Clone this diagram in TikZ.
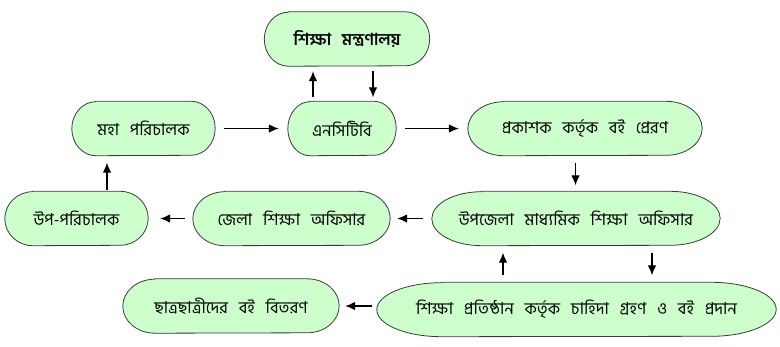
\documentclass[tikz,border=0pt]{standalone}
\usepackage{fontspec}
\usetikzlibrary{arrows.meta,backgrounds}
\newfontfamily\bangla[Script=Bengali]{Hind Siliguri}
\definecolor{boxGreen}{HTML}{CCFFCC}
\definecolor{edgeGray}{HTML}{3A3A3A}
\newcommand{\stagefont}{\bangla\fontsize{16.5}{20}\selectfont\spaceskip=0.65em\relax}
\tikzset{
  flow arrow/.style={-{Latex[length=10pt,width=8.5pt]},draw=black,line width=1.2pt},
  stage node/.style={inner sep=0pt,align=center,minimum height=54pt,
    font=\stagefont},
  stage outline/.style={draw=edgeGray,fill=boxGreen,line width=0.8pt}
}
% outline with elliptic ends, drawn behind a named node
\newcommand{\stagebox}[2]{%
  \draw[stage outline] ([xshift=#2]#1.north west) -- ([xshift=-#2]#1.north east)
    arc[start angle=90,end angle=-90,x radius=#2,y radius=27pt]
    -- ([xshift=#2]#1.south west)
    arc[start angle=270,end angle=90,x radius=#2,y radius=27pt] -- cycle;}

\begin{document}
\begin{tikzpicture}[x=1pt,y=-1pt]
  \useasboundingbox (0,0) rectangle (780,346);
  \node[stage node,minimum width=165pt] (ministry) at (347,39)
    {\bfseries শিক্ষা মন্ত্রণালয়};
  \node[stage node,minimum width=143pt] (dg) at (143.5,128.5) {মহা পরিচালক};
  \node[stage node,minimum width=108pt] (nctb) at (342,128.5) {এনসিটিবি};
  \node[stage node,minimum width=234pt] (publisher) at (585,128.5)
    {প্রকাশক কর্তৃক বই প্রেরণ};
  \node[stage node,minimum width=288pt] (upazila) at (576,218.5)
    {উপজেলা মাধ্যমিক শিক্ষা অফিসার};
  \node[stage node,minimum width=197pt] (zila) at (291.5,218.5)
    {জেলা শিক্ষা অফিসার};
  \node[stage node,minimum width=143pt] (dd) at (76.5,218.5) {উপ-পরিচালক};
  \node[stage node,minimum width=216pt] (students) at (231,306)
    {ছাত্রছাত্রীদের বই বিতরণ};
  \node[stage node,minimum width=399pt] (institute) at (576.5,309.5)
    {শিক্ষা প্রতিষ্ঠান কর্তৃক চাহিদা গ্রহণ ও বই প্রদান};

  \begin{scope}[on background layer]
    \stagebox{ministry}{24pt}
    \stagebox{dg}{24pt}
    \stagebox{nctb}{22pt}
    \stagebox{publisher}{36pt}
    \stagebox{upazila}{50pt}
    \stagebox{zila}{32pt}
    \stagebox{dd}{28pt}
    \stagebox{students}{32pt}
    \stagebox{institute}{65pt}
  \end{scope}

  \draw[flow arrow,shorten <=4pt,shorten >=5pt]
    ([xshift=-29pt]nctb.north) -- ([xshift=-29pt]nctb.north |- ministry.south);
  \draw[flow arrow,shorten <=5pt,shorten >=4pt]
    ([xshift=31pt]nctb.north |- ministry.south) -- ([xshift=31pt]nctb.north);
  \draw[flow arrow,shorten <=9pt,shorten >=9pt] (dg) -- (nctb);
  \draw[flow arrow,shorten <=9pt,shorten >=9pt] (nctb) -- (publisher);
  \draw[flow arrow,shorten <=7pt,shorten >=6pt]
    ([xshift=-9.5pt]publisher.south) -- ([xshift=-9.5pt]publisher.south |- upazila.north);
  \draw[flow arrow,shorten <=9pt,shorten >=7pt] (upazila) -- (zila);
  \draw[flow arrow,shorten <=8pt,shorten >=12pt] (zila) -- (dd);
  \draw[flow arrow,shorten <=1.5pt,shorten >=7pt]
    ([xshift=30.5pt]dd.north) -- ([xshift=30.5pt]dd.north |- dg.south);
  \draw[flow arrow,shorten <=7pt,shorten >=7pt]
    ([xshift=-73.5pt]institute.north) -- ([xshift=-73.5pt]institute.north |- upazila.south);
  \draw[flow arrow,shorten <=7pt,shorten >=7pt]
    ([xshift=76pt]upazila.south) -- ([xshift=76pt]upazila.south |- institute.north);
  \draw[flow arrow,shorten <=5pt,shorten >=6pt]
    (institute.west |- students.east) -- (students.east);
\end{tikzpicture}
\end{document}
